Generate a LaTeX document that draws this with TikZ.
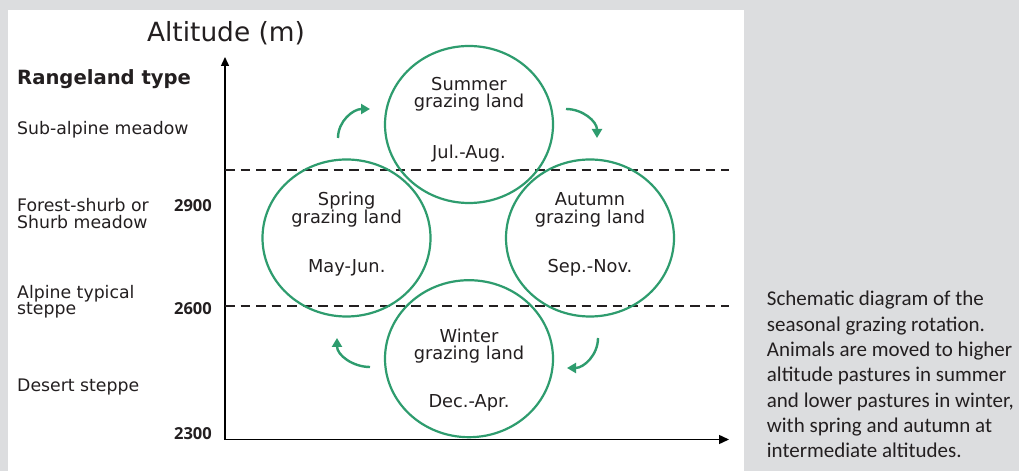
\documentclass[tikz,border=0pt]{standalone}
\usepackage{fontspec}
\setmainfont{DejaVu Sans}
\newfontfamily\numfont{Open Sans}
\newfontfamily\capfont{Carlito}
\usetikzlibrary{shapes.geometric,arrows.meta}
\definecolor{bggray}{HTML}{DCDDDF}
\definecolor{grn}{HTML}{2E9C6E}
\definecolor{ink}{HTML}{231F20}
\tikzset{
  lbl/.style={anchor=base west, inner sep=0pt, text=ink, font=\fontsize{17.3}{20}\selectfont},
  num/.style={anchor=base east, inner sep=0pt, text=ink, font=\numfont\bfseries\fontsize{16.5}{20}\selectfont},
  ctext/.style={anchor=base, inner sep=0pt, text=ink, font=\fontsize{17.8}{21}\selectfont},
  captxt/.style={anchor=base west, inner sep=0pt, text=ink, font=\capfont\fontsize{21}{25}\selectfont},
  season/.style={ellipse, draw=grn, line width=2.2pt, minimum width=168pt, minimum height=157pt, inner sep=0pt},
  garrow/.style={draw=grn, line width=2.4pt, -{Triangle[length=9pt,width=10pt]}},
  axisline/.style={draw=black, line width=1.4pt, {Triangle[length=9pt,width=8pt]}-{Triangle[length=10pt,width=9pt]}},
  bandline/.style={draw=ink, line width=2pt, dash pattern=on 9.5pt off 6pt}
}
\begin{document}
\begin{tikzpicture}[x=1pt,y=1pt]
\fill[bggray] (0,0) rectangle (1019,471);
\fill[white] (8,0) rectangle (744,461);
\useasboundingbox (0,0) rectangle (1019,471);

% axes
\coordinate (ytip) at (225,414);
\coordinate (xtip) at (729,31.5);
\draw[axisline] (ytip) |- (xtip);

% band lines
\coordinate (ua) at (225,301);
\coordinate (ub) at (729,301);
\coordinate (la) at (225,165);
\coordinate (lb) at (729,165);
\draw[bandline] (ua) -- (ub);
\draw[bandline] (la) -- (lb);

% circles
\node[season] (summer) at (469,346.5) {};
\node[season] (spring) at (346.5,233) {};
\node[season] (autumn) at (590,233) {};
\node[season] (winter) at (469,112.3) {};

% circle texts
\node[ctext] (su1) at (469,380.3) {Summer};
\node[ctext] (su2) at (469,363.3) {grazing land};
\node[ctext] (su3) at (469,312.7) {Jul.-Aug.};
\node[ctext] (sp1) at (346.7,265.3) {Spring};
\node[ctext] (sp2) at (346.7,247.7) {grazing land};
\node[ctext] (sp3) at (346.7,198.7) {May-Jun.};
\node[ctext] (au1) at (590,265.3) {Autumn};
\node[ctext] (au2) at (590,247.7) {grazing land};
\node[ctext] (au3) at (590,198.7) {Sep.-Nov.};
\node[ctext] (wi1) at (469,128.7) {Winter};
\node[ctext] (wi2) at (469,111) {grazing land};
\node[ctext] (wi3) at (469,63.7) {Dec.-Apr.};

% curved arrows
\coordinate (tl1) at (338,333);
\coordinate (tl2) at (370,362);
\coordinate (tr1) at (566,362);
\coordinate (tr2) at (597,333);
\coordinate (br1) at (598,133);
\coordinate (br2) at (567,103);
\coordinate (bl1) at (370,104);
\coordinate (bl2) at (337,133);
\draw[garrow] (tl1) to[out=90,in=180] (tl2);
\draw[garrow] (tr1) to[out=0,in=90] (tr2);
\draw[garrow] (br1) to[out=-90,in=0] (br2);
\draw[garrow] (bl1) to[out=180,in=-90] (bl2);

% titles
\node[anchor=base, inner sep=0pt, text=ink, font=\fontsize{26.4}{30}\selectfont] (alt) at (226,429.3) {Altitude (m)};
\node[anchor=base west, inner sep=0pt, text=ink, font=\bfseries\fontsize{19.6}{24}\selectfont] (rtype) at (17,386) {Rangeland type};

% rangeland labels
\node[lbl] (r1) at (17,336) {Sub-alpine meadow};
\node[lbl] (r2a) at (17,259.3) {Forest-shurb or};
\node[lbl] (r2b) at (17,242.7) {Shurb meadow};
\node[lbl] (r3a) at (17,172.5) {Alpine typical};
\node[lbl] (r3b) at (17,156) {steppe};
\node[lbl] (r4) at (17,79.3) {Desert steppe};

% altitude numbers
\node[num] (n2900) at (212,259.3) {2900};
\node[num] (n2600) at (212,156) {2600};
\node[num] (n2300) at (212,31.7) {2300};

% caption
\node[captxt] (c1) at (766.7,165) {Schematic diagram of the};
\node[captxt] (c2) at (766.7,139.7) {seasonal grazing rotation.};
\node[captxt] (c3) at (766.7,114.4) {Animals are moved to higher};
\node[captxt] (c4) at (766.7,89.1) {altitude pastures in summer};
\node[captxt] (c5) at (766.7,63.8) {and lower pastures in winter,};
\node[captxt] (c6) at (766.7,38.5) {with spring and autumn at};
\node[captxt] (c7) at (766.7,13.2) {intermediate altitudes.};
\end{tikzpicture}
\end{document}
